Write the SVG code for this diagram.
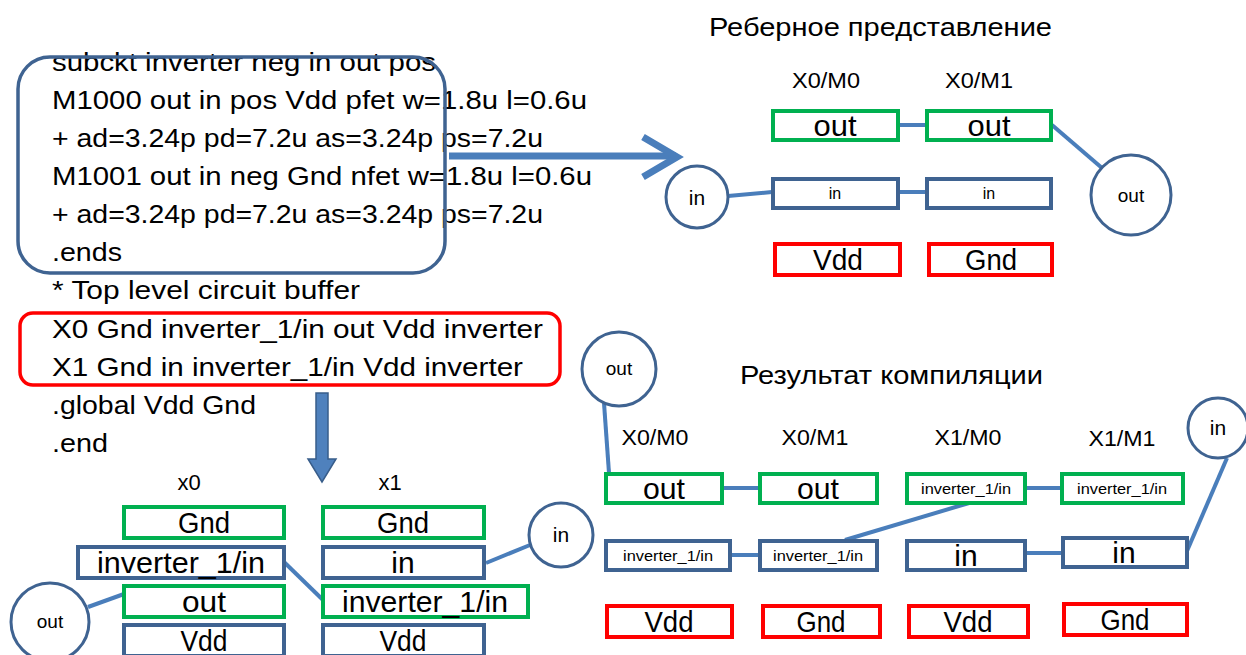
<svg xmlns="http://www.w3.org/2000/svg" width="1246" height="655" viewBox="0 0 1246 655">
<style>
text{font-family:"Liberation Sans",Arial,sans-serif;fill:#000}
.code{font-size:26px}
.lbl{font-size:22px;text-anchor:middle}
.bt{font-size:30px;text-anchor:middle}
.sm{font-size:15px;text-anchor:middle}
.cs{font-size:19px;text-anchor:middle}
.ci{font-size:21px;text-anchor:middle}
.g{fill:#fff;stroke:#00b050;stroke-width:4}
.b{fill:#fff;stroke:#3f6391;stroke-width:4}
.r{fill:#fff;stroke:#ff0000;stroke-width:4}
.c{fill:#fff;stroke:#3f6391;stroke-width:3}
.ln{stroke:#4a7ebb;stroke-width:4;fill:none}
</style>
<rect width="1246" height="655" fill="#fff"/>
<g id="code">
<text class="code" x="52" y="71" textLength="384" lengthAdjust="spacingAndGlyphs">subckt inverter neg in out pos</text>
<text class="code" x="52" y="109" textLength="535" lengthAdjust="spacingAndGlyphs">M1000 out in pos Vdd pfet w=1.8u l=0.6u</text>
<text class="code" x="52" y="147" textLength="491" lengthAdjust="spacingAndGlyphs">+ ad=3.24p pd=7.2u as=3.24p ps=7.2u</text>
<text class="code" x="52" y="185" textLength="540" lengthAdjust="spacingAndGlyphs">M1001 out in neg Gnd nfet w=1.8u l=0.6u</text>
<text class="code" x="52" y="223" textLength="491" lengthAdjust="spacingAndGlyphs">+ ad=3.24p pd=7.2u as=3.24p ps=7.2u</text>
<text class="code" x="52" y="261" textLength="70" lengthAdjust="spacingAndGlyphs">.ends</text>
<text class="code" x="52" y="299" textLength="308" lengthAdjust="spacingAndGlyphs">* Top level circuit buffer</text>
<text class="code" x="52" y="338" textLength="491" lengthAdjust="spacingAndGlyphs">X0 Gnd inverter_1/in out Vdd inverter</text>
<text class="code" x="52" y="376" textLength="471" lengthAdjust="spacingAndGlyphs">X1 Gnd in inverter_1/in Vdd inverter</text>
<text class="code" x="52" y="414" textLength="204" lengthAdjust="spacingAndGlyphs">.global Vdd Gnd</text>
<text class="code" x="52" y="452" textLength="56" lengthAdjust="spacingAndGlyphs">.end</text>
</g>
<g id="subckt-frame"><rect x="18" y="57" width="427" height="216" rx="32" fill="none" stroke="#3f6391" stroke-width="3.5"/></g>
<g id="top-frame"><rect x="20" y="313" width="540" height="72" rx="13" fill="none" stroke="#ff0000" stroke-width="3.5"/></g>
<g id="arrows">
<path d="M449 156 H676" stroke="#4a7ebb" stroke-width="7" fill="none"/>
<path d="M643 137 L677 157 L643 177" stroke="#4a7ebb" stroke-width="7" fill="none" stroke-linejoin="miter"/>
<path d="M316 393 H328 V459 H336 L322 482 L308 459 H316 Z" fill="#4f81bd" stroke="#385d8a" stroke-width="1.5"/>
</g>
<g id="connectors">
<line class="ln" x1="88" y1="607" x2="124" y2="594"/>
<line class="ln" x1="284" y1="562" x2="323" y2="600"/>
<line class="ln" x1="530" y1="545" x2="486" y2="563"/>
<line class="ln" x1="898" y1="125" x2="927" y2="125"/>
<line class="ln" x1="898" y1="192" x2="927" y2="192"/>
<line class="ln" x1="728" y1="196" x2="772" y2="192"/>
<line class="ln" x1="1052" y1="125" x2="1102" y2="168"/>
<line class="ln" x1="604" y1="403" x2="609" y2="473"/>
<line class="ln" x1="722" y1="488" x2="760" y2="488"/>
<line class="ln" x1="1025" y1="488" x2="1062" y2="488"/>
<line class="ln" x1="969" y1="503" x2="845" y2="540"/>
<line class="ln" x1="730" y1="555" x2="760" y2="555"/>
<line class="ln" x1="1025" y1="553" x2="1062" y2="553"/>
<line class="ln" x1="1227" y1="458" x2="1187" y2="551"/>
</g>
<g id="titles">
<text x="709" y="36" style="font-size:26px" textLength="343" lengthAdjust="spacingAndGlyphs">Реберное представление</text>
<text x="740" y="384" style="font-size:26px" textLength="303" lengthAdjust="spacingAndGlyphs">Результат компиляции</text>
</g>
<g id="labels">
<text class="lbl" x="826" y="88" textLength="68" lengthAdjust="spacingAndGlyphs">X0/M0</text>
<text class="lbl" x="979" y="88" textLength="68" lengthAdjust="spacingAndGlyphs">X0/M1</text>
<text class="lbl" x="655" y="445" textLength="67" lengthAdjust="spacingAndGlyphs">X0/M0</text>
<text class="lbl" x="815" y="445" textLength="67" lengthAdjust="spacingAndGlyphs">X0/M1</text>
<text class="lbl" x="968" y="445" textLength="67" lengthAdjust="spacingAndGlyphs">X1/M0</text>
<text class="lbl" x="1122" y="446" textLength="67" lengthAdjust="spacingAndGlyphs">X1/M1</text>
<text class="lbl" x="189" y="490">x0</text>
<text class="lbl" x="390" y="490">x1</text>
</g>
<g id="x0-gnd"><rect class="g" x="124" y="507" width="160" height="31"/><text class="bt" x="204" y="533" textLength="52" lengthAdjust="spacingAndGlyphs">Gnd</text></g>
<g id="x0-inv"><rect class="b" x="78" y="547" width="206" height="31"/><text class="bt" x="181" y="573" textLength="168" lengthAdjust="spacingAndGlyphs">inverter_1/in</text></g>
<g id="x0-out"><rect class="g" x="124" y="586" width="160" height="31"/><text class="bt" x="204" y="612" textLength="44" lengthAdjust="spacingAndGlyphs">out</text></g>
<g id="x0-vdd"><rect class="b" x="124" y="625" width="160" height="31"/><text class="bt" x="204" y="651" textLength="47" lengthAdjust="spacingAndGlyphs">Vdd</text></g>
<g id="x1-gnd"><rect class="g" x="323" y="507" width="161" height="31"/><text class="bt" x="403" y="533" textLength="52" lengthAdjust="spacingAndGlyphs">Gnd</text></g>
<g id="x1-in"><rect class="b" x="323" y="547" width="161" height="31"/><text class="bt" x="403" y="573">in</text></g>
<g id="x1-inv"><rect class="g" x="323" y="586" width="205" height="31"/><text class="bt" x="425" y="612" textLength="166" lengthAdjust="spacingAndGlyphs">inverter_1/in</text></g>
<g id="x1-vdd"><rect class="b" x="323" y="625" width="161" height="31"/><text class="bt" x="403" y="651" textLength="47" lengthAdjust="spacingAndGlyphs">Vdd</text></g>
<g id="bl-out"><circle class="c" cx="50" cy="622" r="39"/><text class="cs" x="50" y="628">out</text></g>
<g id="bl-in"><circle class="c" cx="561" cy="535" r="32"/><text class="ci" x="561" y="542">in</text></g>
<g id="tr-m0-out"><rect class="g" x="773" y="111" width="125" height="29"/><text class="bt" x="835" y="136" textLength="43" lengthAdjust="spacingAndGlyphs">out</text></g>
<g id="tr-m1-out"><rect class="g" x="927" y="111" width="124" height="29"/><text class="bt" x="989" y="136" textLength="43" lengthAdjust="spacingAndGlyphs">out</text></g>
<g id="tr-m0-in"><rect class="b" x="773" y="179" width="125" height="29"/><text class="sm" x="835" y="199" style="font-size:16px">in</text></g>
<g id="tr-m1-in"><rect class="b" x="927" y="179" width="124" height="29"/><text class="sm" x="989" y="199" style="font-size:16px">in</text></g>
<g id="tr-vdd"><rect class="r" x="775" y="244" width="125" height="31"/><text class="bt" x="838" y="270" textLength="50" lengthAdjust="spacingAndGlyphs">Vdd</text></g>
<g id="tr-gnd"><rect class="r" x="929" y="244" width="123" height="31"/><text class="bt" x="991" y="270" textLength="52" lengthAdjust="spacingAndGlyphs">Gnd</text></g>
<g id="tr-in"><circle class="c" cx="697" cy="197" r="31"/><text class="ci" x="697" y="205">in</text></g>
<g id="tr-out"><circle class="c" cx="1131" cy="195" r="40"/><text class="cs" x="1131" y="202">out</text></g>
<g id="br-out"><circle class="c" cx="619" cy="369" r="37"/><text class="cs" x="619" y="375">out</text></g>
<g id="br-in"><circle class="c" cx="1218" cy="428" r="30"/><text class="ci" x="1218" y="435">in</text></g>
<g id="br-a1"><rect class="g" x="606" y="474" width="116" height="29"/><text class="bt" x="664" y="499" textLength="42" lengthAdjust="spacingAndGlyphs">out</text></g>
<g id="br-a2"><rect class="g" x="760" y="474" width="117" height="29"/><text class="bt" x="818" y="499" textLength="42" lengthAdjust="spacingAndGlyphs">out</text></g>
<g id="br-a3"><rect class="g" x="907" y="474" width="118" height="29"/><text class="sm" x="966" y="494" textLength="90" lengthAdjust="spacingAndGlyphs">inverter_1/in</text></g>
<g id="br-a4"><rect class="g" x="1062" y="474" width="121" height="29"/><text class="sm" x="1122" y="494" textLength="90" lengthAdjust="spacingAndGlyphs">inverter_1/in</text></g>
<g id="br-b1"><rect class="b" x="606" y="541" width="124" height="29"/><text class="sm" x="668" y="561" textLength="90" lengthAdjust="spacingAndGlyphs">inverter_1/in</text></g>
<g id="br-b2"><rect class="b" x="760" y="541" width="117" height="29"/><text class="sm" x="818" y="561" textLength="90" lengthAdjust="spacingAndGlyphs">inverter_1/in</text></g>
<g id="br-b3"><rect class="b" x="907" y="541" width="118" height="29"/><text class="bt" x="966" y="566">in</text></g>
<g id="br-b4"><rect class="b" x="1063" y="538" width="124" height="29"/><text class="bt" x="1124" y="563">in</text></g>
<g id="br-c1"><rect class="r" x="607" y="606" width="125" height="31"/><text class="bt" x="669" y="632" textLength="49" lengthAdjust="spacingAndGlyphs">Vdd</text></g>
<g id="br-c2"><rect class="r" x="763" y="606" width="117" height="31"/><text class="bt" x="821" y="632" textLength="49" lengthAdjust="spacingAndGlyphs">Gnd</text></g>
<g id="br-c3"><rect class="r" x="909" y="606" width="119" height="31"/><text class="bt" x="968" y="632" textLength="49" lengthAdjust="spacingAndGlyphs">Vdd</text></g>
<g id="br-c4"><rect class="r" x="1064" y="604" width="123" height="31"/><text class="bt" x="1125" y="630" textLength="49" lengthAdjust="spacingAndGlyphs">Gnd</text></g>
</svg>
